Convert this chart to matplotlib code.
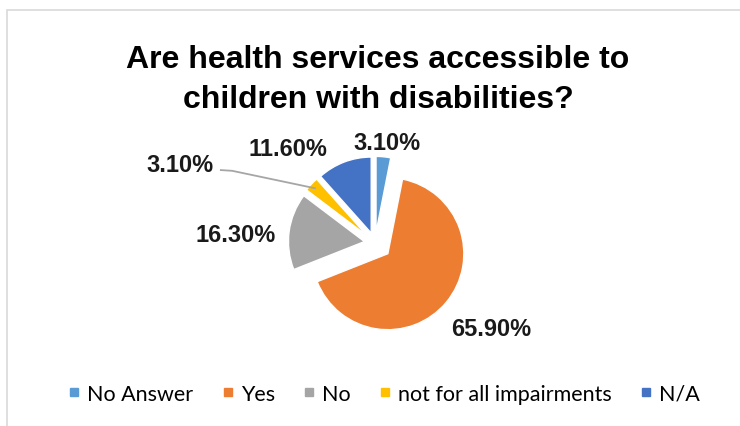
import matplotlib.pyplot as plt
from matplotlib.lines import Line2D
from matplotlib.patches import Rectangle
import numpy as np

plt.rcParams['font.family'] = ['Lato', 'DejaVu Sans']

labels = ['No Answer', 'Yes', 'No', 'not for all impairments', 'N/A']
values = [3.1, 65.9, 16.3, 3.1, 11.6]
colors = ['#5B9BD5', '#ED7D31', '#A5A5A5', '#FFC000', '#4472C4']
title = 'Are health services accessible to\nchildren with disabilities?'

# where each percentage label sits (pie radius = 1)
label_xy = [(0.16, 1.32), (1.53, -1.12), (-1.84, 0.11), (-2.57, 1.03), (-1.15, 1.24)]

bold_font = ['Liberation Sans', 'DejaVu Sans']

W, H = 740, 427
fig = plt.figure(figsize=(W / 100, H / 100), dpi=100)

# chart border
fig.patches.append(Rectangle((7 / W, -0.05), 1.2, (H - 11) / H + 0.05,
                             transform=fig.transFigure, fill=False,
                             edgecolor='#D9D9D9', linewidth=1.2))

fig.text(378 / W, 1 - 80 / H, title, ha='center', va='center', family=bold_font,
         fontsize=23, fontweight='bold', linespacing=1.45)

# square axes centred on the pie, 76 px per unit
R = 76
side = 400
cx, cy = 375, 244
ax = fig.add_axes([(cx - side / 2) / W, (H - cy - side / 2) / H, side / W, side / H])

explode = [0.14, 0.22, 0.14, 0.14, 0.14]
wedges, _ = ax.pie(values, colors=colors, startangle=90, counterclock=False,
                   explode=explode, radius=1,
                   wedgeprops=dict(edgecolor='white', linewidth=1))
lim = side / 2 / R
ax.set_xlim(-lim, lim)
ax.set_ylim(-lim, lim)
ax.axis('off')

for v, (x, y) in zip(values, label_xy):
    ax.text(x, y, f'{v:.2f}%', ha='center', va='center', family=bold_font,
            fontsize=17, fontweight='bold', color='#1a1a1a')

# leader line for the small yellow slice
w = wedges[3]
mid = np.deg2rad((w.theta1 + w.theta2) / 2)
ex, ey = w.center[0] + 0.92 * np.cos(mid), w.center[1] + 0.92 * np.sin(mid)
lx, ly = label_xy[3]
ax.plot([lx + 0.53, lx + 0.69, ex], [ly - 0.07, ly - 0.08, ey],
        color='#A6A6A6', linewidth=1.3, solid_capstyle='butt')

handles = [Line2D([], [], marker='s', ls='', color=c, markersize=6) for c in colors]
fig.legend(handles, labels, loc='center', bbox_to_anchor=(384 / W, (H - 395) / H),
           ncol=5, frameon=False, fontsize=15.5, handlelength=0.6,
           handletextpad=0.3, columnspacing=1.3)

fig.savefig('out.png', dpi=100, facecolor='white')
